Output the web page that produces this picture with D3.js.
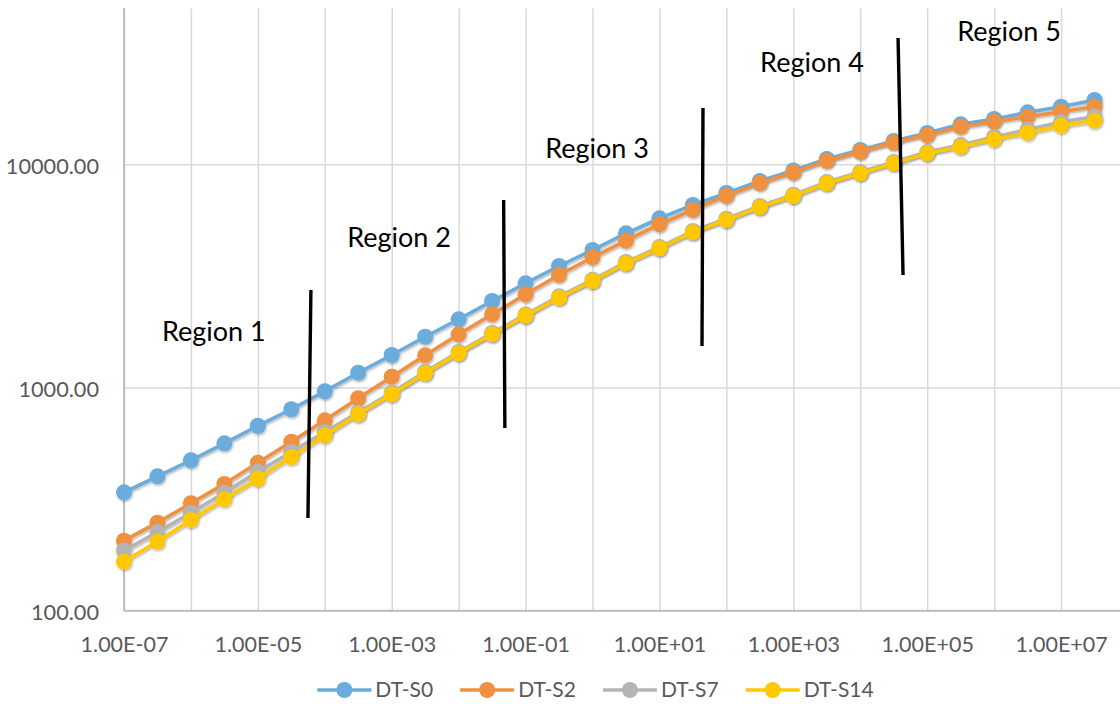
<!DOCTYPE html>
<html>
<head>
<meta charset="utf-8">
<script src="https://cdn.jsdelivr.net/npm/d3@7"></script>
<style>
  html, body { margin: 0; padding: 0; background: #ffffff; }
  svg { display: block; }
  text { font-family: "Lato", "Open Sans", sans-serif; }
</style>
</head>
<body>
<svg id="chart" width="1120" height="704"></svg>
<script>
// Time / frequency points (half-decade steps)
const timePoints = [
  1.00e-7, 3.16e-7, 1.00e-6, 3.16e-6, 1.00e-5, 3.16e-5, 1.00e-4, 3.16e-4,
  1.00e-3, 3.16e-3, 1.00e-2, 3.16e-2, 1.00e-1, 3.16e-1, 1.00e+0, 3.16e+0,
  1.00e+1, 3.16e+1, 1.00e+2, 3.16e+2, 1.00e+3, 3.16e+3, 1.00e+4, 3.16e+4,
  1.00e+5, 3.16e+5, 1.00e+6, 3.16e+6, 1.00e+7, 3.16e+7
];

const seriesNames = ["DT-S0", "DT-S2", "DT-S7", "DT-S14"];
const seriesColors = ["#6aacdc", "#f09141", "#b4b4b4", "#ffc800"];

const dtS0 = [
  339, 400, 472, 562, 674, 799, 962, 1165, 1398, 1689,
  2021, 2441, 2930, 3503, 4130, 4908, 5728, 6572, 7436, 8418,
  9380, 10560, 11590, 12720, 13810, 15110, 15960, 17100, 18130, 19420
];
const dtS2 = [
  206, 248, 303, 370, 460, 572, 713, 895, 1118, 1394,
  1731, 2128, 2616, 3192, 3831, 4548, 5386, 6243, 7232, 8245,
  9209, 10380, 11390, 12550, 13530, 14740, 15520, 16340, 17210, 18130
];
const dtS7 = [
  186, 225, 275, 338, 420, 514, 632, 773, 950, 1176,
  1443, 1755, 2123, 2562, 3041, 3650, 4262, 5025, 5705, 6505,
  7308, 8330, 9237, 10240, 11350, 12200, 13260, 14320, 15470, 16380
];
const dtS14 = [
  166, 204, 255, 316, 390, 488, 610, 759, 932, 1158,
  1423, 1731, 2095, 2525, 3001, 3602, 4205, 4958, 5629, 6424,
  7211, 8220, 9114, 10100, 11200, 11990, 12940, 13860, 14890, 15680
];
const seriesValues = [dtS0, dtS2, dtS7, dtS14];

// Axis ticks
const xLabelTicks = [1e-7, 1e-5, 1e-3, 1e-1, 1e1, 1e3, 1e5, 1e7];
const xGridTicks = [1e-7, 1e-6, 1e-5, 1e-4, 1e-3, 1e-2, 1e-1, 1e0, 1e1, 1e2, 1e3, 1e4, 1e5, 1e6, 1e7];
const yTicks = [100, 1000, 10000];

// Region annotations (data coordinates)
const regionNames = ["Region 1", "Region 2", "Region 3", "Region 4", "Region 5"];
const regionLabelX = [2.2e-6, 1.29e-3, 1.17, 1900, 1.67e6];
const regionLabelY = [1790, 4677, 11710, 28450, 39170];

// Boundary lines between regions: [x, y] top and bottom ends
const dividerTop = [[6.2e-5, 2735], [0.047, 6918], [44.7, 17870], [36700, 36800]];
const dividerBottom = [[5.6e-5, 260], [0.049, 659], [43.2, 1535], [43550, 3190]];

// ---------------------------------------------------------------
const svg = d3.select("#chart");
const plot = { left: 124, right: 1128, top: 8.3, bottom: 610.7 };

const x = d3.scaleLog().domain([1e-7, 1e8]).range([plot.left, plot.right]);
const y = d3.scaleLog().domain([100, 50000]).range([plot.bottom, plot.top]);

const defs = svg.append("defs");
defs.append("clipPath").attr("id", "plotClip")
  .append("rect")
  .attr("x", plot.left - 12).attr("y", plot.top - 12)
  .attr("width", plot.right - plot.left + 24).attr("height", plot.bottom - plot.top + 24);

const shadow = defs.append("filter").attr("id", "softShadow")
  .attr("x", "-10%").attr("y", "-10%").attr("width", "120%").attr("height", "120%");
shadow.append("feDropShadow")
  .attr("dx", 0.8).attr("dy", 1.6).attr("stdDeviation", 1)
  .attr("flood-color", "#000").attr("flood-opacity", 0.3);

// Gridlines
const grid = svg.append("g");
grid.append("g")
  .attr("transform", `translate(0,${plot.bottom})`)
  .call(d3.axisBottom(x).tickValues(xGridTicks).tickSize(-(plot.bottom - plot.top)).tickFormat(""))
  .call(g => g.select(".domain").remove())
  .call(g => g.selectAll(".tick line").attr("stroke", "#d9d9d9").attr("stroke-width", 1.5));
grid.append("g")
  .attr("transform", `translate(${plot.left},0)`)
  .call(d3.axisLeft(y).tickValues(yTicks).tickSize(-(plot.right - plot.left)).tickFormat(""))
  .call(g => g.select(".domain").remove())
  .call(g => g.selectAll(".tick line").attr("stroke", "#d9d9d9").attr("stroke-width", 1.5));

// Axis lines
svg.append("line")
  .attr("x1", plot.left).attr("x2", plot.left)
  .attr("y1", plot.top).attr("y2", plot.bottom)
  .attr("stroke", "#bfbfbf").attr("stroke-width", 2);
svg.append("line")
  .attr("x1", plot.left).attr("x2", plot.right)
  .attr("y1", plot.bottom).attr("y2", plot.bottom)
  .attr("stroke", "#bfbfbf").attr("stroke-width", 2);

// Tick labels
const sciFormat = v => {
  const [m, e] = d3.format(".2e")(v).split("e");
  const sign = e[0] === "-" ? "-" : "+";
  return m + "E" + sign + e.replace(/^[+-]/, "").padStart(2, "0");
};

svg.append("g")
  .attr("transform", `translate(0,${plot.bottom})`)
  .call(d3.axisBottom(x).tickValues(xLabelTicks).tickSize(0).tickFormat(sciFormat))
  .call(g => g.select(".domain").remove())
  .call(g => g.selectAll("text")
    .attr("y", 34).attr("dy", "0.35em")
    .attr("fill", "#595959").style("font-size", "21.5px").style("font-family", "Lato, sans-serif"));

svg.append("g")
  .attr("transform", `translate(${plot.left},0)`)
  .call(d3.axisLeft(y).tickValues(yTicks).tickSize(0).tickFormat(d3.format(".2f")))
  .call(g => g.select(".domain").remove())
  .call(g => g.selectAll("text")
    .attr("x", -25).attr("dy", "0.42em")
    .attr("fill", "#595959").style("font-size", "21.7px").style("font-family", "Lato, sans-serif"));

// Series
const line = d3.line()
  .x(d => x(d[0]))
  .y(d => y(d[1]));

const seriesLayer = svg.append("g").attr("clip-path", "url(#plotClip)");
seriesNames.forEach((name, i) => {
  const pts = timePoints.map((t, k) => [t, seriesValues[i][k]]);
  const g = seriesLayer.append("g").attr("filter", "url(#softShadow)");
  g.append("path")
    .datum(pts)
    .attr("d", line)
    .attr("fill", "none")
    .attr("stroke", seriesColors[i])
    .attr("stroke-width", 3.5)
    .attr("stroke-linejoin", "round");
  g.selectAll("circle")
    .data(pts)
    .join("circle")
    .attr("cx", d => x(d[0]))
    .attr("cy", d => y(d[1]))
    .attr("r", 8)
    .attr("fill", seriesColors[i]);
});

// Region boundaries
svg.append("g")
  .selectAll("line")
  .data(d3.zip(dividerTop, dividerBottom))
  .join("line")
  .attr("x1", d => x(d[0][0])).attr("y1", d => y(d[0][1]))
  .attr("x2", d => x(d[1][0])).attr("y2", d => y(d[1][1]))
  .attr("stroke", "#000").attr("stroke-width", 3.4);

// Region labels
svg.append("g")
  .selectAll("text")
  .data(regionNames)
  .join("text")
  .attr("x", (d, i) => x(regionLabelX[i]))
  .attr("y", (d, i) => y(regionLabelY[i]))
  .attr("dy", "0.35em")
  .attr("text-anchor", "middle")
  .attr("fill", "#000")
  .style("font-size", "27px")
  .text(d => d);

// Legend
const legend = svg.append("g").attr("transform", "translate(0,690)");
const items = legend.selectAll("g.item")
  .data(seriesNames)
  .join("g").attr("class", "item");
items.append("line")
  .attr("x1", 0).attr("x2", 54).attr("y1", 0).attr("y2", 0)
  .attr("stroke", (d, i) => seriesColors[i]).attr("stroke-width", 3.5);
items.append("circle")
  .attr("cx", 27).attr("cy", 0).attr("r", 8)
  .attr("fill", (d, i) => seriesColors[i]);
items.append("text")
  .attr("x", 58).attr("dy", "0.35em")
  .attr("fill", "#595959").style("font-size", "21px")
  .text(d => d);

const widths = [];
items.each(function () {
  widths.push(58 + this.querySelector("text").getComputedTextLength());
});
const gap = 27;
const total = d3.sum(widths) + gap * (widths.length - 1);
let cursor = 595.5 - total / 2;
items.each(function (d, i) {
  d3.select(this).attr("transform", `translate(${cursor},0)`);
  cursor += widths[i] + gap;
});
</script>
</body>
</html>
